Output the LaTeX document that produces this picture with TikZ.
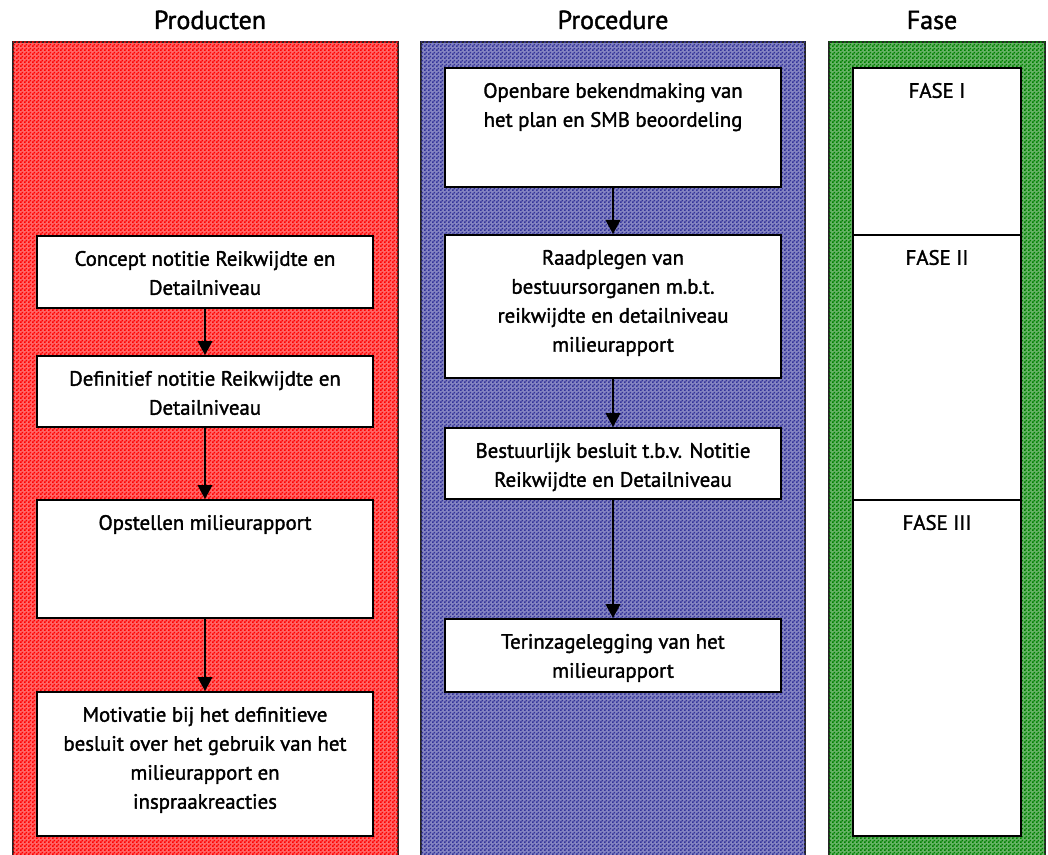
\documentclass[tikz,border=0pt]{standalone}
\usepackage{fontspec}
\setmainfont{PT Sans}[FakeBold=1.6]
\usepackage{xcolor}
\usetikzlibrary{arrows.meta, positioning, patterns}

\definecolor{rood}{HTML}{FF0000}
\definecolor{blauw}{HTML}{333399}
\definecolor{groen}{HTML}{008000}

% small checkerboard for the three columns
\pgfdeclarepatternformonly{ruitjes}{\pgfpointorigin}{\pgfqpoint{3pt}{3pt}}{\pgfqpoint{3pt}{3pt}}{%
  \pgfpathrectangle{\pgfpointorigin}{\pgfqpoint{1.5pt}{1.5pt}}%
  \pgfpathrectangle{\pgfqpoint{1.5pt}{1.5pt}}{\pgfqpoint{1.5pt}{1.5pt}}%
  \pgfusepath{fill}}

\tikzset{
  kolom/.style={draw=black!85, line width=1.2pt, fill=#1!60, postaction={pattern=ruitjes, pattern color=#1}},
  kop/.style={anchor=base, font=\fontsize{19.5}{23}\selectfont},
  stap/.style={draw, line width=1.3pt, fill=white, anchor=north, inner sep=0pt, minimum width=252pt},
  tekst/.style={anchor=north, inner sep=0pt, yshift=-11.8pt, align=center, font=\fontsize{15.6}{21.75}\selectfont},
  fase/.style={draw, line width=1.3pt, fill=white, anchor=north, inner sep=0pt, minimum width=126pt},
  pijl/.style={line width=1.3pt, -{Triangle[width=11pt, length=10.5pt]}}
}

\begin{document}
\begin{tikzpicture}[x=0.75pt, y=-0.75pt]
\useasboundingbox[fill=white] (0,0) rectangle (1048,855);

% columns
\draw[kolom=rood] (13,42) rectangle (398,862);
\draw[kolom=blauw] (421,42) rectangle (805,862);
\draw[kolom=groen] (829,42) rectangle (1045,862);

\node[kop] (kopP) at (210,29) {Producten};
\node[kop] (kopR) at (613,29) {Procedure};
\node[kop] (kopF) at (932,29) {Fase};

% Producten
\node[stap, minimum height=54pt, label={[tekst]north:Concept notitie Reikwijdte en\\Detailniveau}] (c1) at (205,235) {};
\node[stap, minimum height=53.25pt, label={[tekst]north:Definitief notitie Reikwijdte en\\Detailniveau}] (c2) at (205,355) {};
\node[stap, minimum height=88.5pt, label={[tekst]north:Opstellen milieurapport}] (c3) at (205,499) {};
\node[stap, minimum height=108pt, label={[tekst]north:Motivatie bij het definitieve\\besluit over het gebruik van het\\milieurapport en\\inspraakreacties}] (c4) at (205,691) {};

% Procedure
\node[stap, minimum height=89.25pt, label={[tekst]north:Openbare bekendmaking van\\het plan en SMB beoordeling}] (b1) at (613,67) {};
\node[stap, minimum height=107.25pt, label={[tekst]north:Raadplegen van\\bestuursorganen m.b.t.\\reikwijdte en detailniveau\\milieurapport}] (b2) at (613,234) {};
\node[stap, minimum height=53.25pt, label={[tekst]north:Bestuurlijk besluit t.b.v. Notitie\\Reikwijdte en Detailniveau}] (b3) at (613,427) {};
\node[stap, minimum height=54.75pt, label={[tekst]north:Terinzagelegging van het\\milieurapport}] (b4) at (613,618) {};

% Fase
\node[fase, minimum height=125.25pt, label={[tekst]north:FASE I}] (f1) at (937,67) {};
\node[fase, minimum height=198.75pt, label={[tekst]north:FASE II}] (f2) at (937,234) {};
\node[fase, minimum height=252pt, label={[tekst]north:FASE III}] (f3) at (937,499) {};

\foreach \a/\b in {c1/c2, c2/c3, c3/c4, b1/b2, b2/b3, b3/b4}
  \draw[pijl] (\a) -- (\b);
\end{tikzpicture}
\end{document}
